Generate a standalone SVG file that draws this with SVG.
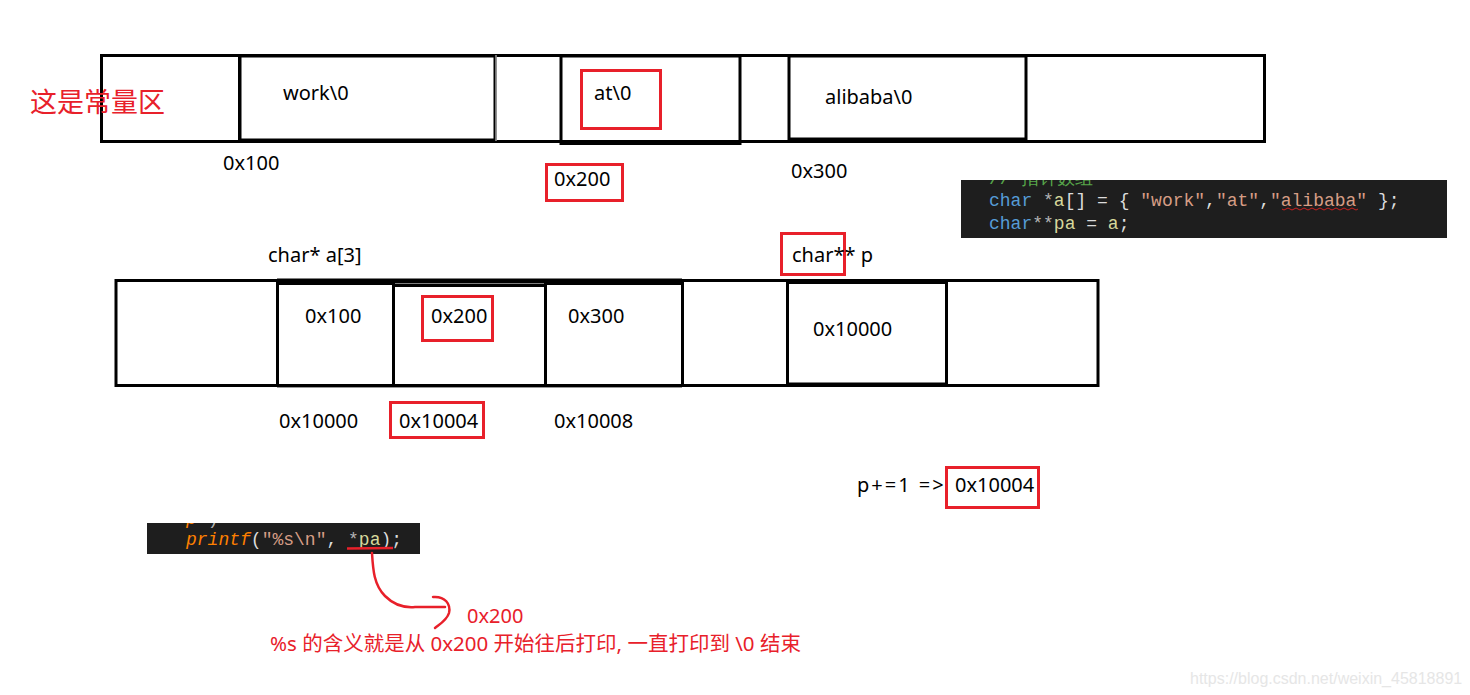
<svg xmlns="http://www.w3.org/2000/svg" width="1470" height="695" viewBox="0 0 1470 695">
<style>
.cell{fill:none;stroke:#000;stroke-width:3}
.hl{fill:none;stroke:#e8202a;stroke-width:3}
.t{font-family:"Noto Sans","Open Sans","Noto Sans CJK SC",sans-serif;font-size:20px;fill:#000}
.r{font-family:"Noto Sans","Noto Sans CJK SC",sans-serif;font-size:20px;fill:#e8202a}
.code{font-family:"Liberation Mono","DejaVu Sans Mono",monospace;font-size:18px;fill:#dcdcdc}
.kw{fill:#569cd6}.str{fill:#d69d85}.var{fill:#d8d89c}.op{fill:#b4b4b4}.fn{fill:#ff8000;font-style:italic}
</style>
<defs>
<clipPath id="c1"><rect x="961" y="180" width="486" height="58"/></clipPath>
<clipPath id="c2"><rect x="147" y="523" width="273" height="31"/></clipPath>
</defs>
<rect width="1470" height="695" fill="#fff"/>

<g id="const-area">
<rect class="cell" x="101.5" y="55.5" width="1163" height="86"/>
<line x1="239" y1="55" x2="239" y2="141" stroke="#000" stroke-width="2"/>
<rect class="cell" x="240" y="56" width="255" height="84"/>
<line x1="496" y1="55" x2="496" y2="141" stroke="#999" stroke-width="1.5"/>
<rect class="cell" x="561" y="56" width="179" height="87.5"/>
<line x1="561" y1="143.5" x2="741" y2="143.5" stroke="#000" stroke-width="3"/>
<rect class="cell" x="789" y="56" width="237" height="83"/>
<text x="30" y="112" font-family="Noto Sans CJK SC,sans-serif" font-size="27" fill="#e8202a">这是常量区</text>
<text class="t" x="283" y="100">work\0</text>
<rect class="hl" x="581.5" y="70.5" width="79" height="58"/>
<text class="t" x="594" y="100">at\0</text>
<text class="t" x="825" y="104">alibaba\0</text>
<text class="t" x="223" y="170">0x100</text>
<rect class="hl" x="546.5" y="164.5" width="76" height="36"/>
<text class="t" x="554" y="186">0x200</text>
<text class="t" x="791" y="178">0x300</text>
</g>

<g id="code-top">
<rect x="961" y="180" width="486" height="58" fill="#1e1e1e"/>
<g clip-path="url(#c1)">
<text class="code" x="989" y="184" style="fill:#57a64a">// 指针数组</text>
<text class="code" x="989" y="206"><tspan class="kw">char</tspan> <tspan class="op">*</tspan><tspan class="var">a</tspan>[] = { <tspan class="str">"work"</tspan>,<tspan class="str">"at"</tspan>,<tspan class="str">"alibaba"</tspan> };</text>
<text class="code" x="989" y="229"><tspan class="kw">char</tspan><tspan class="op">**</tspan><tspan class="var">pa</tspan> = <tspan class="var">a</tspan>;</text>
<path d="M1282 209 q2 2 4 0 t4 0 t4 0 t4 0 t4 0 t4 0 t4 0 t4 0 t4 0 t4 0 t4 0 t4 0 t4 0 t4 0 t4 0 t4 0 t4 0 t4 0 t4 0" fill="none" stroke="#c82020" stroke-width="1"/>
</g>
</g>

<g id="array-a">
<rect class="cell" x="116" y="280.5" width="982" height="105"/>
<line x1="277" y1="281" x2="682" y2="281" stroke="#000" stroke-width="5"/>
<rect class="cell" x="277.5" y="283.5" width="116" height="102"/>
<rect class="cell" x="393.5" y="285.5" width="152" height="100"/>
<rect class="cell" x="545.5" y="283.5" width="137" height="102"/>
<line x1="277" y1="387.5" x2="682" y2="387.5" stroke="#999" stroke-width="1"/>
<text class="t" x="268" y="262">char* a[3]</text>
<text class="t" x="305" y="323">0x100</text>
<rect class="hl" x="422.5" y="296.5" width="70" height="44"/>
<text class="t" x="431" y="323">0x200</text>
<text class="t" x="568" y="323">0x300</text>
<text class="t" x="279" y="428">0x10000</text>
<rect class="hl" x="390.5" y="402.5" width="93" height="35"/>
<text class="t" x="399" y="428">0x10004</text>
<text class="t" x="554" y="428">0x10008</text>
</g>

<g id="pointer-p">
<rect class="cell" x="787.5" y="282.5" width="159" height="101.5"/>
<rect class="hl" x="781.5" y="233.5" width="63" height="41"/>
<text class="t" x="792" y="262">char** p</text>
<text class="t" x="813" y="336">0x10000</text>
<text class="t" x="857" y="492" letter-spacing="2">p+=1 =&gt;</text>
<rect class="hl" x="946.5" y="467.5" width="92" height="40"/>
<text class="t" x="955" y="492">0x10004</text>
</g>

<g id="code-bottom">
<rect x="147" y="523" width="273" height="31" fill="#1e1e1e"/>
<g clip-path="url(#c2)">
<text class="code" x="186" y="524"><tspan class="fn">p</tspan>    <tspan class="op">)</tspan></text>
<text class="code" x="186" y="545"><tspan class="fn">printf</tspan>(<tspan class="str">"%s\n"</tspan>, <tspan class="op">*</tspan><tspan class="var">pa</tspan>);</text>
</g>
</g>

<g id="connectors">
<path d="M347 548.5 L393 548" fill="none" stroke="#e8202a" stroke-width="2.5"/>
<path d="M372 553 C373 570 374 585 385 596 C394 605 404 608 415 607 L445 607" fill="none" stroke="#e8202a" stroke-width="2.5" stroke-linecap="round"/>
<path d="M433 597 C445 596 451 604 449 613 C447 620 440 624 435 628" fill="none" stroke="#e8202a" stroke-width="2.5" stroke-linecap="round"/>
</g>

<g id="notes">
<text class="r" x="467" y="623">0x200</text>
<text class="r" x="270" y="651" style="font-size:20.5px">%s 的含义就是从 0x200 开始往后打印, 一直打印到 \0 结束</text>
<text x="1190" y="684" font-family="Liberation Sans,sans-serif" font-size="16" fill="#e6e6e6">https://blog.csdn.net/weixin_45818891</text>
</g>
</svg>
